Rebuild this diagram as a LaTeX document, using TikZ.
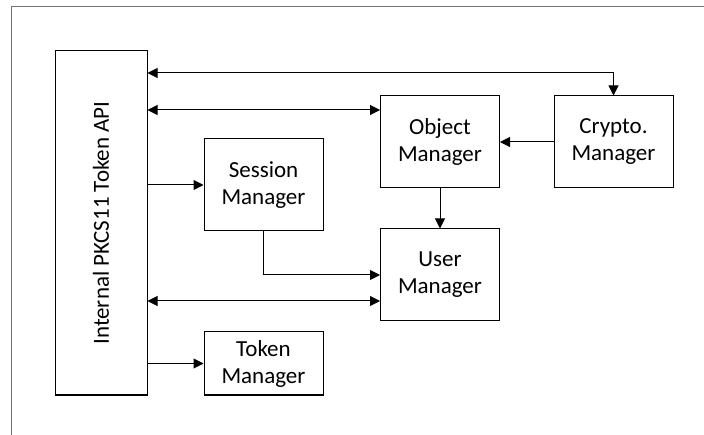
\documentclass[tikz,border=0pt]{standalone}
\usepackage{fontspec}
\setmainfont{Carlito}
\usetikzlibrary{arrows.meta}

\begin{document}
\begin{tikzpicture}[x=1pt,y=-1pt,line width=1pt,
    every node/.style={font=\fontsize{23}{27}\selectfont},
    mgr/.style={draw,align=center,minimum width=119pt,minimum height=92pt,inner sep=0pt},
    conn/.style={-{Triangle[length=10pt,width=10pt]}},
    biconn/.style={{Triangle[length=10pt,width=10pt]}-{Triangle[length=10pt,width=10pt]}},
  ]
\useasboundingbox (0,0) rectangle (704,435);
\draw[black!55] (11,435) -- (11,7) -- (704,7);

% rotated box: its south side faces right
\node[draw,rotate=90,minimum width=344pt,minimum height=92pt,inner sep=0pt] (api) at (101,223) {Internal PKCS11 Token API};
\node[mgr] (session) at (263.5,185) {Session\\Manager};
\node[mgr] (object) at (440,142) {Object\\Manager};
\node[mgr] (crypto) at (613.5,142) {Crypto.\\Manager};
\node[mgr] (user) at (440,275) {User\\Manager};
\node[mgr,minimum height=63pt] (token) at (263.5,363.5) {Token\\Manager};

\draw[biconn] (api.south |- 0,73) -| (crypto.north);
\draw[biconn] (api.south |- 0,110) -- (object.west |- 0,110);
\draw[conn] (api.south |- session.west) -- (session.west);
\draw[conn] (session.south) |- (user.west);
\draw[biconn] (api.south |- 0,301) -- (user.west |- 0,301);
\draw[conn] (api.south |- token.west) -- (token.west);
\draw[conn] (object.south) -- (user.north);
\draw[conn] (crypto.west) -- (object.east);
\end{tikzpicture}
\end{document}
